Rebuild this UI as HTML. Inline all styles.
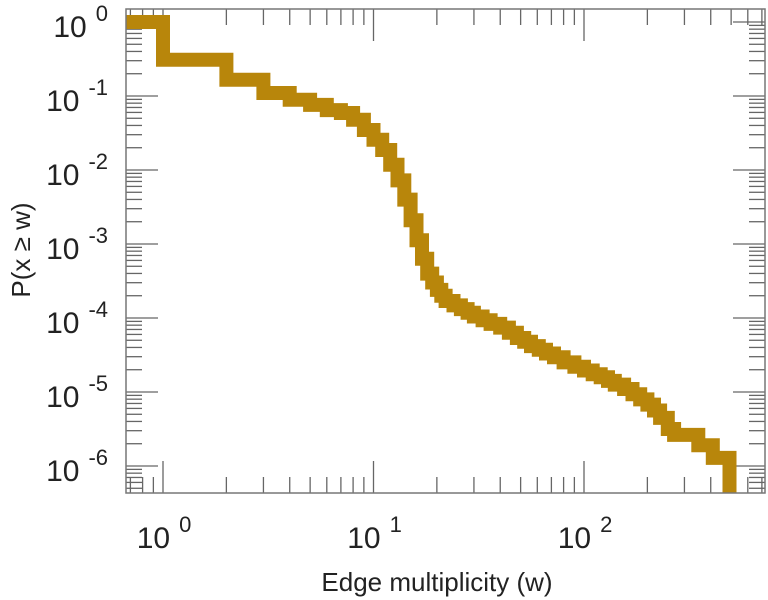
<!DOCTYPE html>
<html><head><meta charset="utf-8"><style>
html,body{margin:0;padding:0;background:#fff;}
svg{display:block;font-family:"Liberation Sans",sans-serif;}
</style></head><body>
<svg id="chart" width="768" height="600" viewBox="0 0 768 600" xmlns="http://www.w3.org/2000/svg">
<g id="grid"></g>
<path id="series" fill="none" stroke="#b8860b" stroke-width="14" stroke-linejoin="miter"></path>
<rect x="126" y="9" width="639" height="484" fill="none" stroke="#777" stroke-width="1.5"></rect>
<g id="labels"></g>
<text x="437" y="591" font-size="26" text-anchor="middle" fill="#222">Edge multiplicity (w)</text>
<text transform="translate(30,250) rotate(-90)" font-size="26" text-anchor="middle" fill="#222">P(x ≥ w)</text>
</svg>
<script>
// data: step edges (w) and CCDF level (log10 P) holding up to each edge; final level after last edge
const wValues = [1,2,3,4,5,6,7,8,9,10,11,12,13,14,15,16,17,18,19,20,21,22,24,26,28,30,33,36,40,44,48,52,56,61,66,72,80,90,100,110,120,130,140,155,170,185,200,215,230,250,268,349,409,491];
const pLog10 = [0,-0.51,-0.78,-0.96,-1.05,-1.12,-1.19,-1.23,-1.32,-1.46,-1.59,-1.73,-1.93,-2.14,-2.4,-2.68,-2.95,-3.2,-3.4,-3.52,-3.62,-3.7,-3.77,-3.83,-3.88,-3.93,-3.98,-4.03,-4.08,-4.13,-4.2,-4.27,-4.32,-4.38,-4.43,-4.48,-4.53,-4.6,-4.66,-4.71,-4.76,-4.8,-4.85,-4.9,-4.96,-5.03,-5.1,-5.17,-5.25,-5.35,-5.5,-5.58,-5.72,-5.89,-9];
const xTickExps = [0,1,2];
const yTickExps = [0,-1,-2,-3,-4,-5,-6];

const L=126,R=765,T=9,B=493;
const X0=163, XD=210.5, Y0=22, YD=74;
function xs(w){return X0+XD*Math.log10(w);}
function ys(lp){return Math.min(B+10,Y0-YD*lp);}
const NS="http://www.w3.org/2000/svg";

let d="M"+L+","+ys(pLog10[0]).toFixed(1);
for(let i=0;i<wValues.length;i++){
  const x=xs(wValues[i]).toFixed(1);
  d+=" L"+x+","+ys(pLog10[i]).toFixed(1);
  if(i+1<pLog10.length) d+=" L"+x+","+ys(pLog10[i+1]).toFixed(1);
}
const clip=document.createElementNS(NS,"clipPath");clip.setAttribute("id","pc");
const cr=document.createElementNS(NS,"rect");cr.setAttribute("x",L);cr.setAttribute("y",T);cr.setAttribute("width",R-L);cr.setAttribute("height",B-T);
clip.appendChild(cr);document.getElementById("chart").prepend(clip);
const s=document.getElementById("series");s.setAttribute("d",d);s.setAttribute("clip-path","url(#pc)");

const g=document.getElementById("grid");
function line(x1,y1,x2,y2,name){
  const l=document.createElementNS(NS,"line");
  l.setAttribute("x1",x1);l.setAttribute("y1",y1);l.setAttribute("x2",x2);l.setAttribute("y2",y2);
  l.setAttribute("stroke","#666");l.setAttribute("stroke-width","1.3");
  
  
  g.appendChild(l);
}
for(let e=-1;e<=3;e++){
  for(let m=1;m<10;m++){
    const x=xs(m*Math.pow(10,e));
    if(x<L||x>R) continue;
    const len=m===1?32:16;
    line(x,B,x,B-len,'x-tick');
    line(x,T,x,T+len,'x-tick-top');
  }
}
for(let e=-7;e<=0;e++){
  for(let m=1;m<10;m++){
    const y=Y0-YD*(Math.log10(m)+e);
    if(y<T||y>B) continue;
    const len=m===1?32:16;
    line(L,y,L+len,y,'y-tick');
    line(R,y,R-len,y,'y-tick-right');
  }
}
const lg=document.getElementById("labels");
function label(x,y,exp,anchor,name){
  const t=document.createElementNS(NS,"text");
  t.setAttribute("x",x);t.setAttribute("y",y);t.setAttribute("text-anchor",anchor);
  t.setAttribute("font-size","30");t.setAttribute("fill","#222");
  
  
  const a=document.createElementNS(NS,"tspan");a.textContent="10";t.appendChild(a);
  const b=document.createElementNS(NS,"tspan");b.setAttribute("dx","9");b.setAttribute("dy","-16");
  b.setAttribute("font-size","22");b.textContent=exp<0?("-"+(-exp)):String(exp);t.appendChild(b);
  lg.appendChild(t);
}
xTickExps.forEach(e=>label(xs(Math.pow(10,e))+1,548,e,"middle","x-tick-label"));
yTickExps.forEach(e=>label(108,Y0-YD*e+15,e,"end","y-tick-label"));
</script>
</body></html>
